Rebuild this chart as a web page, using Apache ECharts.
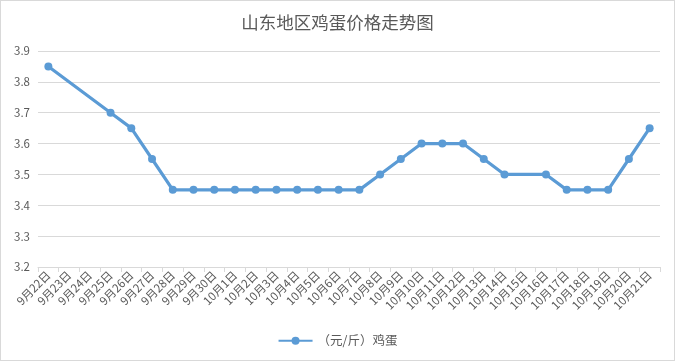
<!DOCTYPE html>
<html><head><meta charset="utf-8">
<script src="https://cdn.jsdelivr.net/npm/echarts@6/dist/echarts.min.js"></script>
<style>
html,body{margin:0;padding:0;background:#fff;}
#c{width:673px;height:359px;border:1px solid #d9d9d9;}
</style></head>
<body><div id="c"></div>
<script>
const categories = ['9月22日','9月23日','9月24日','9月25日','9月26日','9月27日','9月28日','9月29日','9月30日','10月1日','10月2日','10月3日','10月4日','10月5日','10月6日','10月7日','10月8日','10月9日','10月10日','10月11日','10月12日','10月13日','10月14日','10月15日','10月16日','10月17日','10月18日','10月19日','10月20日','10月21日'];
const eggPrice = [3.85,null,null,3.70,3.65,3.55,3.45,3.45,3.45,3.45,3.45,3.45,3.45,3.45,3.45,3.45,3.50,3.55,3.60,3.60,3.60,3.55,3.50,null,3.50,3.45,3.45,3.45,3.55,3.65];
const seriesName = '（元/斤）鸡蛋';
const titleText = '山东地区鸡蛋价格走势图';
const font = '"Microsoft YaHei","Noto Sans CJK SC",sans-serif';
const chart = echarts.init(document.getElementById('c'));
chart.setOption({
  animation:false,
  title:{text:titleText,left:'center',top:8,textStyle:{fontFamily:font,fontSize:17.5,fontWeight:'normal',color:'#595959'}},
  legend:{bottom:8,left:'center',itemWidth:34,itemHeight:10,textStyle:{fontFamily:font,fontSize:12.5,color:'#595959'},data:[seriesName]},
  grid:{left:37,right:14,top:50,bottom:93,containLabel:false},
  xAxis:{type:'category',data:categories,boundaryGap:true,
    axisLine:{lineStyle:{color:'#d9d9d9'}},
    axisTick:{show:true,lineStyle:{color:'#d9d9d9'},length:5},
    axisLabel:{rotate:45,interval:0,fontFamily:font,fontSize:11.5,color:'#595959',margin:6}},
  yAxis:{type:'value',min:3.2,max:3.9,interval:0.1,
    axisLine:{show:false},axisTick:{show:false},
    splitLine:{lineStyle:{color:'#d9d9d9'}},
    axisLabel:{fontFamily:font,fontSize:11.5,color:'#595959',margin:8,formatter:v=>v.toFixed(1)}},
  series:[{name:seriesName,type:'line',data:eggPrice,connectNulls:true,
    symbol:'circle',symbolSize:8,
    lineStyle:{width:3.2,color:'#5b9bd5'},itemStyle:{color:'#5b9bd5'}}]
});
</script></body></html>
